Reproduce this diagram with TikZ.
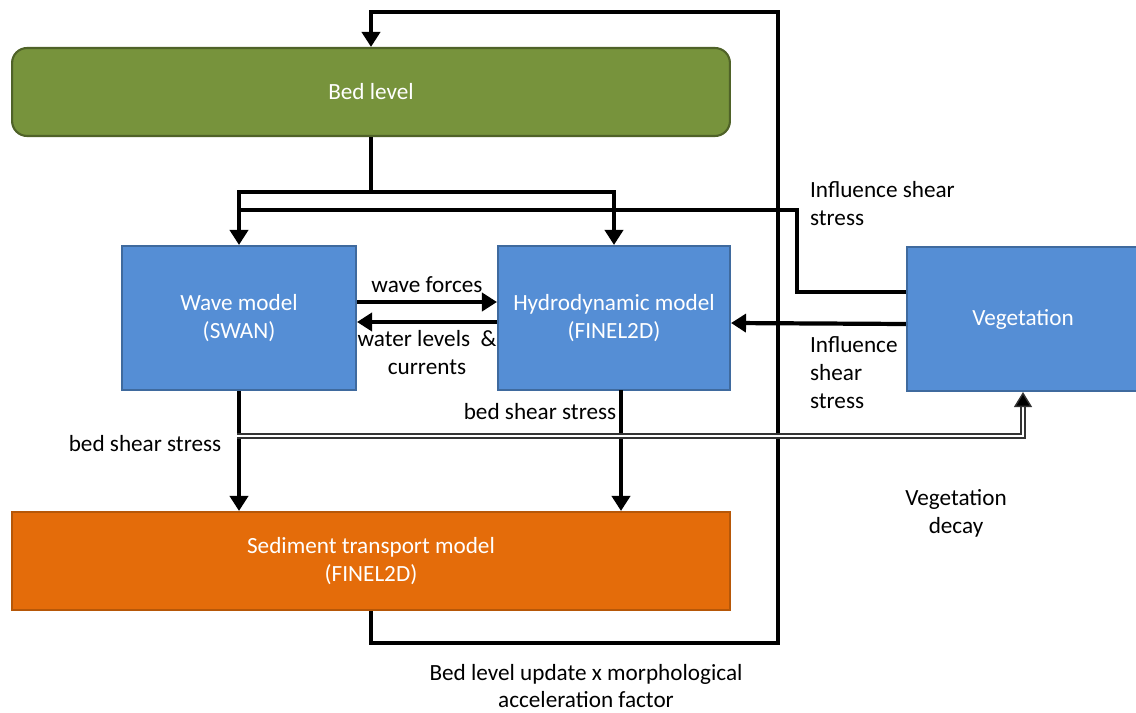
\documentclass[tikz,border=0pt]{standalone}
\usepackage{fontspec}
\setmainfont{Carlito}
\usepackage{tikz}
\usetikzlibrary{arrows.meta}
\definecolor{bedgreen}{HTML}{77933C}
\definecolor{bedgreenline}{HTML}{4F6228}
\definecolor{modelblue}{HTML}{558ED5}
\definecolor{modelblueline}{HTML}{3F6A9E}
\definecolor{sedorange}{HTML}{E46C0A}
\definecolor{sedorangeline}{HTML}{B65708}
\tikzstyle{bedbox} = [rectangle, rounded corners=0.3cm, minimum width=14.36cm, minimum height=1.76cm, text centered, draw=bedgreenline, line width=1.2pt, fill=bedgreen, text=white]
\tikzstyle{model} = [rectangle, minimum width=4.68cm, minimum height=2.88cm, align=center, draw=modelblueline, line width=1.2pt, fill=modelblue, text=white]
\tikzstyle{sedbox} = [rectangle, minimum width=14.36cm, minimum height=1.96cm, align=center, draw=sedorangeline, line width=1.2pt, fill=sedorange, text=white]
\tikzstyle{link} = [line width=2.4pt]
\tikzstyle{arrow} = [line width=2.4pt, -{Triangle[width=0.36cm,length=0.3cm]}]
\tikzstyle{decay} = [draw=black!80, double=white, line width=0.8pt, double distance=1.4pt, -{Triangle[width=0.36cm,length=0.3cm,fill=black]}]
\tikzstyle{note} = [align=left, inner sep=1pt]

\begin{document}
\begin{tikzpicture}[x=0.02cm, y=-0.02cm, font=\fontsize{13.2}{15.9}\selectfont]
\useasboundingbox (0,0) rectangle (1136,713);
\node (bed) [bedbox] at (371,92) {Bed level};
\node (wave) [model] at (239,318) {Wave model\\(SWAN)};
\node (hydro) [model, minimum width=4.64cm] at (614,318) {Hydrodynamic model\\(FINEL2D)};
\node (veg) [model, minimum width=4.64cm] at (1023,319) {Vegetation};
\node (sed) [sedbox] at (371,561) {Sediment transport model\\(FINEL2D)};

% bends of the connectors
\coordinate (loopBottom) at (371,643);
\coordinate (loopTop) at (778,12);
\coordinate (split) at (371,192);
\coordinate (shearTop) at (797,210);
\coordinate (hydroOut) at (621,390);
\coordinate (decayLine) at (237,436);

\draw [arrow] (sed.south) -- (loopBottom) -| (loopTop) -| (bed.north);
\draw [link] (bed.south) -- (split);
\draw [arrow] (split) -| (wave.north);
\draw [arrow] (split) -| (hydro.north);
\draw [link] ([yshift=0.54cm]veg.west) -| (shearTop) -- (shearTop -| wave.north);
\draw [arrow] ([yshift=-0.1cm]veg.west) -- ([yshift=-0.1cm]hydro.east);
\draw [arrow] ([yshift=0.32cm]wave.east) -- node[above=1pt] {wave forces} ([yshift=0.32cm]hydro.west);
\draw [arrow] ([yshift=-0.08cm]hydro.west) -- node[below=0pt, align=center] {water levels~~\&\\currents} ([yshift=-0.08cm]wave.east);
\draw [arrow] (wave.south) -- (wave.south |- sed.north);
\draw [arrow] (hydroOut) -- (hydroOut |- sed.north);
\draw [decay] (decayLine) -| (veg.south);

\node (bssWave) at (145,444) {bed shear stress};
\node (bssHydro) at (540,412) {bed shear stress};
\node (shearWave) [note, anchor=west] at (808,204) {Influence shear\\stress};
\node (shearHydro) [note, anchor=west] at (808,373) {Influence\\shear\\stress};
\node (vegDecay) [align=center] at (956,513) {Vegetation\\decay};
\node (bedUpdate) [align=center, inner sep=1pt] at (586,686) {Bed level update x morphological\\acceleration factor};
\end{tikzpicture}
\end{document}
